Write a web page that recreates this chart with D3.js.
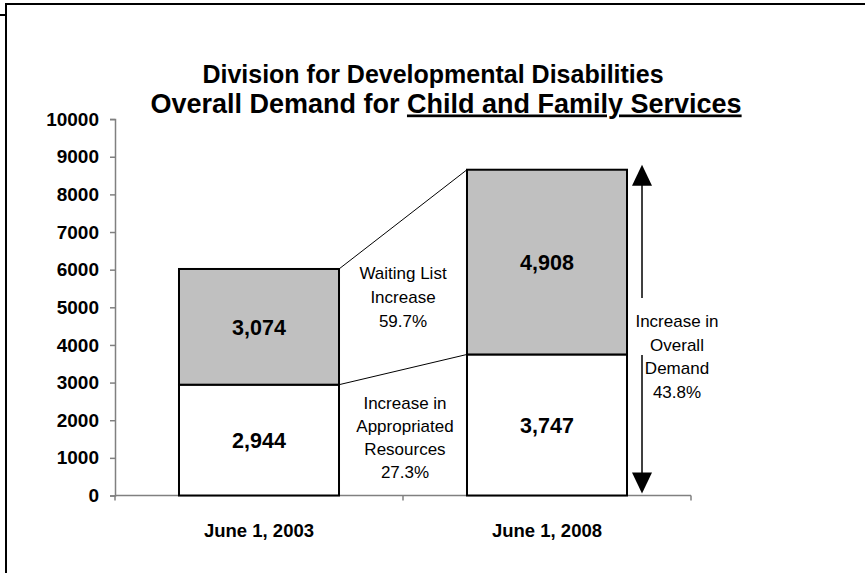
<!DOCTYPE html>
<html>
<head>
<meta charset="utf-8">
<script src="https://cdn.jsdelivr.net/npm/d3@7"></script>
<style>
  html, body { margin: 0; padding: 0; background: #fff; }
  svg { display: block; font-family: Arial, "Liberation Sans", sans-serif; }
</style>
</head>
<body>
<svg id="chart" width="865" height="573"></svg>
<script>
// Demand for Child and Family Services, by date
const categories = ["June 1, 2003", "June 1, 2008"];
const appropriated = [2944, 3747];   // lower segment: appropriated resources
const waitingList = [3074, 4908];    // upper segment: waiting list
const yTicks = [0, 1000, 2000, 3000, 4000, 5000, 6000, 7000, 8000, 9000, 10000];
const titleLines = ["Division for Developmental Disabilities", "Overall Demand for ", "Child and Family Services"];
const noteWaiting = ["Waiting List", "Increase", "59.7%"];
const noteAppropriated = ["Increase in", "Appropriated", "Resources", "27.3%"];
const noteOverall = ["Increase in", "Overall", "Demand", "43.8%"];

const svg = d3.select("#chart");
const fmt = d3.format(",");

// frame edges
svg.append("line").attr("x1", 5).attr("y1", 4).attr("x2", 865).attr("y2", 4)
  .attr("stroke", "#000").attr("stroke-width", 2);
svg.append("line").attr("x1", 6).attr("y1", 3).attr("x2", 6).attr("y2", 573)
  .attr("stroke", "#000").attr("stroke-width", 2);
svg.append("line").attr("x1", 0).attr("y1", 15).attr("x2", 6).attr("y2", 15)
  .attr("stroke", "#000").attr("stroke-width", 2);

const x = d3.scaleBand().domain(categories).range([115, 691])
  .paddingInner(0.4444).paddingOuter(0.2222);
const y = d3.scaleLinear().domain([0, 10000]).range([495.5, 119.1]);

// title
const title = svg.append("g").attr("font-weight", "bold").attr("fill", "#000")
  .attr("text-anchor", "middle");
title.append("text").attr("x", 433).attr("y", 83).attr("font-size", 25).text(titleLines[0]);
const t2 = title.append("text").attr("x", 446).attr("y", 112.5).attr("font-size", 27);
t2.append("tspan").text(titleLines[1]);
t2.append("tspan").attr("text-decoration", "underline").text(titleLines[2]);

// y axis
const yAxis = svg.append("g").attr("transform", "translate(115,0)")
  .call(d3.axisLeft(y).tickValues(yTicks).tickSize(5).tickPadding(11).tickFormat(d3.format("d")));
yAxis.select(".domain").attr("stroke", "#808080").attr("stroke-width", 1.5);
yAxis.selectAll(".tick line").attr("stroke", "#808080").attr("stroke-width", 1.5);
yAxis.selectAll(".tick text").attr("font-size", 19).attr("font-weight", "bold")
  .attr("fill", "#000").attr("font-family", "Arial, 'Liberation Sans', sans-serif");

// x axis: line with ticks at category boundaries
const x0 = x.range()[0], x1 = x.range()[1];
const bounds = d3.range(categories.length + 1).map(i => x0 + i * x.step());
svg.append("line").attr("x1", x0).attr("x2", x1).attr("y1", y(0)).attr("y2", y(0))
  .attr("stroke", "#808080").attr("stroke-width", 1.5);
svg.selectAll(".xtick").data(bounds).join("line").attr("class", "xtick")
  .attr("x1", d => d).attr("x2", d => d).attr("y1", y(0)).attr("y2", y(0) + 5)
  .attr("stroke", "#808080").attr("stroke-width", 1.5);
svg.selectAll(".xlabel").data(categories).join("text").attr("class", "xlabel")
  .attr("x", d => x(d) + x.bandwidth() / 2).attr("y", 537)
  .attr("text-anchor", "middle").attr("font-size", 18.5).attr("font-weight", "bold")
  .text(d => d);

// stacked bars
const rows = categories.map((c, i) => ({ c, a: appropriated[i], w: waitingList[i] }));
const bars = svg.append("g");
bars.selectAll(".low").data(rows).join("rect").attr("class", "low")
  .attr("x", d => x(d.c)).attr("width", x.bandwidth())
  .attr("y", d => y(d.a)).attr("height", d => y(0) - y(d.a))
  .attr("fill", "#fff").attr("stroke", "#000").attr("stroke-width", 2);
bars.selectAll(".high").data(rows).join("rect").attr("class", "high")
  .attr("x", d => x(d.c)).attr("width", x.bandwidth())
  .attr("y", d => y(d.a + d.w)).attr("height", d => y(d.a) - y(d.a + d.w))
  .attr("fill", "#c0c0c0").attr("stroke", "#000").attr("stroke-width", 2);

// segment value labels
bars.selectAll(".vlow").data(rows).join("text")
  .attr("x", d => x(d.c) + x.bandwidth() / 2).attr("y", d => (y(0) + y(d.a)) / 2)
  .attr("dy", "0.36em").attr("text-anchor", "middle").attr("font-size", 21.5).attr("font-weight", "bold")
  .text(d => fmt(d.a));
bars.selectAll(".vhigh").data(rows).join("text")
  .attr("x", d => x(d.c) + x.bandwidth() / 2).attr("y", d => (y(d.a) + y(d.a + d.w)) / 2)
  .attr("dy", "0.36em").attr("text-anchor", "middle").attr("font-size", 21.5).attr("font-weight", "bold")
  .text(d => fmt(d.w));

// connector lines between the bars
const r0 = x(categories[0]) + x.bandwidth(), l1 = x(categories[1]);
svg.append("line").attr("x1", r0).attr("y1", y(rows[0].a + rows[0].w))
  .attr("x2", l1).attr("y2", y(rows[1].a + rows[1].w)).attr("stroke", "#000").attr("stroke-width", 1);
svg.append("line").attr("x1", r0).attr("y1", y(rows[0].a))
  .attr("x2", l1).attr("y2", y(rows[1].a)).attr("stroke", "#000").attr("stroke-width", 1);

// annotation text blocks (first value is the centre of the first line)
function note(lines, cx, firstMid, gap) {
  const g = svg.append("g").attr("font-size", 17).attr("fill", "#000").attr("text-anchor", "middle");
  lines.forEach((t, i) => g.append("text").attr("x", cx).attr("y", firstMid + i * gap)
    .attr("dy", "0.36em").text(t));
}
note(noteWaiting, 403, 273, 24);
note(noteAppropriated, 405, 403, 23);
note(noteOverall, 677, 321, 23.5);

// overall demand arrow
const ax = l1 + x.bandwidth() + 15;
const arrowTop = y(rows[1].a + rows[1].w), arrowBot = y(0);
svg.append("line").attr("x1", ax).attr("x2", ax).attr("y1", arrowTop + 14).attr("y2", 298)
  .attr("stroke", "#000").attr("stroke-width", 1.5);
svg.append("line").attr("x1", ax).attr("x2", ax).attr("y1", 355).attr("y2", arrowBot - 20)
  .attr("stroke", "#000").attr("stroke-width", 1.5);
svg.append("path").attr("d", `M${ax},${arrowTop - 5} L${ax - 10},${arrowTop + 16} L${ax + 10},${arrowTop + 16} Z`).attr("fill", "#000");
svg.append("path").attr("d", `M${ax},${arrowBot - 2} L${ax - 10},${arrowBot - 23} L${ax + 10},${arrowBot - 23} Z`).attr("fill", "#000");
</script>
</body>
</html>
